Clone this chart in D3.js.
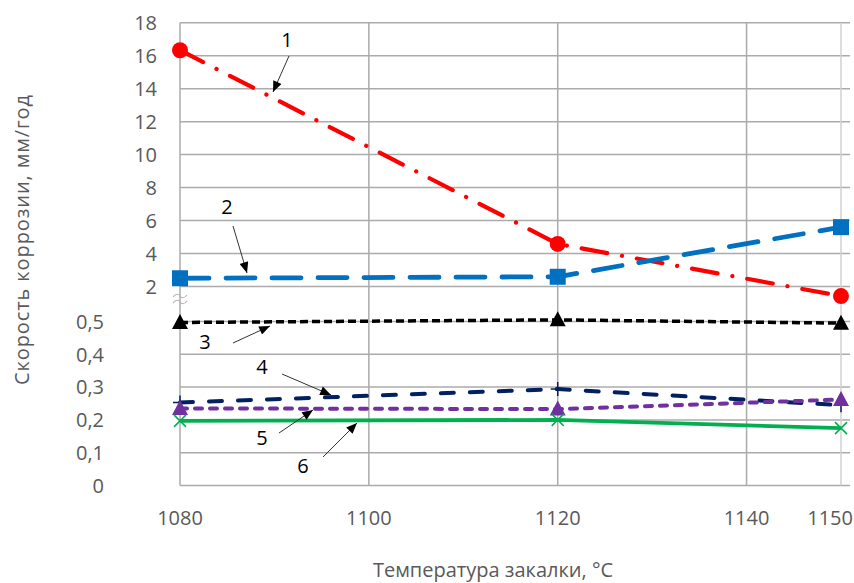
<!DOCTYPE html>
<html><head><meta charset="utf-8">
<script src="https://cdn.jsdelivr.net/npm/d3@7"></script>
<style>
html,body{margin:0;padding:0;background:#fff;}
svg{display:block;}
text{font-family:"Open Sans",sans-serif;}
</style></head>
<body>
<svg id="c" width="854" height="583"></svg>
<script>
// ---- data ----
const temps = [1080, 1120, 1150];
const series1 = [16.33, 4.58, 1.42];   // upper panel
const series2 = [2.5, 2.59, 5.6];      // upper panel
const series3 = [0.497, 0.505, 0.495]; // lower panel
const series4 = [0.253, 0.294, 0.245];
const series5 = [0.235, 0.233, 0.262];
const series6 = [0.197, 0.2, 0.175];
const upperTicks = [2, 4, 6, 8, 10, 12, 14, 16, 18];
const lowerTicks = [0, 0.1, 0.2, 0.3, 0.4, 0.5];
const xTicks = [1080, 1100, 1120, 1140, 1150];
const seriesLabels = ["1", "2", "3", "4", "5", "6"];
const yTitle = "Скорость коррозии, мм/год";
const xTitle = "Температура закалки, °C";

// ---- layout ----
const svg = d3.select("#c");
const x = d3.scaleLinear().domain([1080, 1150]).range([180, 841]);
const yTop = d3.scaleLinear().domain([2, 18]).range([286.5, 22.7]);
const yBot = d3.scaleLinear().domain([0, 0.5]).range([485.5, 321.5]);
const gridRight = 850;
const gridColor = "#ababab";
const labelColor = "#595959";

// horizontal grid
const g = svg.append("g");
upperTicks.forEach(t => g.append("line").attr("x1", x(1080)).attr("x2", gridRight)
  .attr("y1", yTop(t)).attr("y2", yTop(t)).attr("stroke", gridColor).attr("stroke-width", 1.5));
lowerTicks.forEach(t => g.append("line").attr("x1", x(1080)).attr("x2", gridRight)
  .attr("y1", yBot(t)).attr("y2", yBot(t)).attr("stroke", gridColor).attr("stroke-width", 1.5));
// vertical grid
xTicks.forEach(t => g.append("line").attr("x1", x(t)).attr("x2", x(t))
  .attr("y1", yTop(18)).attr("y2", yBot(0))
  .attr("stroke", t === 1150 ? "#d0d0d0" : gridColor).attr("stroke-width", 1.5));

// break marks
const bx = x(1080);
[296, 302].forEach(yy => {
  g.append("path").attr("d", `M${bx-7},${yy+1} C${bx-4},${yy-3} ${bx-1},${yy-2} ${bx},${yy} S${bx+4},${yy+3} ${bx+7},${yy-1}`)
   .attr("fill", "none").attr("stroke", "#b5b5b5").attr("stroke-width", 1.2);
});

// tick labels
svg.append("g").selectAll("text").data(upperTicks).join("text")
  .attr("x", 157).attr("y", d => yTop(d)).attr("dy", "0.36em")
  .attr("text-anchor", "end").attr("font-size", 20).attr("fill", labelColor)
  .text(d => d);
svg.append("g").selectAll("text").data(lowerTicks).join("text")
  .attr("x", 104).attr("y", d => yBot(d)).attr("dy", "0.36em")
  .attr("text-anchor", "end").attr("font-size", 20).attr("fill", labelColor)
  .text(d => d === 0 ? "0" : String(d).replace(".", ","));
svg.append("g").selectAll("text").data(xTicks).join("text")
  .attr("x", d => d === 1150 ? 853 : x(d)).attr("y", 518).attr("dy", "0.36em")
  .attr("text-anchor", d => d === 1150 ? "end" : "middle")
  .attr("font-size", 20).attr("fill", labelColor).text(d => d);

// axis titles
const yt = svg.append("text").attr("transform", "translate(29,240) rotate(-90)")
  .attr("text-anchor", "middle").attr("font-size", 20).attr("fill", labelColor).text(yTitle);
yt.attr("textLength", 290).attr("lengthAdjust", "spacing");
svg.append("text").attr("x", 493).attr("y", 577).attr("text-anchor", "middle")
  .attr("font-size", 20).attr("fill", labelColor).text(xTitle);

// series
const defs = [
  {v: series1, y: yTop, color: "#ff0000", w: 4.2, dash: "26,15,0.1,15", cap: "round", marker: "circle"},
  {v: series2, y: yTop, color: "#0070c0", w: 4.8, dash: "29,17", cap: "round", marker: "square"},
  {v: series3, y: yBot, color: "#000000", w: 3.5, dash: "8,4", cap: "butt", marker: "triangle"},
  {v: series4, y: yBot, color: "#002060", w: 4, dash: "13,16", cap: "round", marker: "plus"},
  {v: series5, y: yBot, color: "#7030a0", w: 4, dash: "7,8", cap: "round", marker: "triangle"},
  {v: series6, y: yBot, color: "#00b050", w: 3.8, dash: null, cap: "butt", marker: "x"}
];
defs.forEach(s => {
  const pts = temps.map((t, i) => [x(t), s.y(s.v[i])]);
  const line = d3.line().curve(d3.curveLinear);
  const p = svg.append("path").attr("d", line(pts)).attr("fill", "none")
    .attr("stroke", s.color).attr("stroke-width", s.w).attr("stroke-linecap", s.cap)
    .attr("stroke-linejoin", "round");
  if (s.dash) p.attr("stroke-dasharray", s.dash);
  const mg = svg.append("g");
  pts.forEach(([px, py]) => {
    if (s.marker === "circle") mg.append("circle").attr("cx", px).attr("cy", py).attr("r", 8).attr("fill", s.color);
    else if (s.marker === "square") mg.append("rect").attr("x", px-8).attr("y", py-8).attr("width", 16).attr("height", 16).attr("fill", s.color);
    else if (s.marker === "triangle") mg.append("path").attr("d", `M${px},${py-8.5} L${px+8},${py+6.5} L${px-8},${py+6.5} Z`).attr("fill", s.color);
    else if (s.marker === "plus") mg.append("path").attr("d", `M${px-7},${py} L${px+7},${py} M${px},${py-7} L${px},${py+7}`).attr("stroke", s.color).attr("stroke-width", 1.5);
    else if (s.marker === "x") mg.append("path").attr("d", `M${px-6},${py-6} L${px+6},${py+6} M${px-6},${py+6} L${px+6},${py-6}`).attr("stroke", s.color).attr("stroke-width", 1.5);
  });
});

// annotations (layout in pixels)
const annot = [
  {tx: 287, ty: 40, x1: 289, y1: 56, x2: 273, y2: 92},
  {tx: 227, ty: 207, x1: 233, y1: 226, x2: 247, y2: 273},
  {tx: 205, ty: 342, x1: 233, y1: 343, x2: 270, y2: 326},
  {tx: 262, ty: 367, x1: 282, y1: 374, x2: 331, y2: 395},
  {tx: 262, ty: 438, x1: 279, y1: 433, x2: 313, y2: 410},
  {tx: 303, ty: 466, x1: 323, y1: 457, x2: 357, y2: 423}
];
svg.append("defs").append("marker").attr("id", "ah").attr("viewBox", "0 0 12 10")
  .attr("refX", 12).attr("refY", 5).attr("markerWidth", 12).attr("markerHeight", 9)
  .attr("markerUnits", "userSpaceOnUse").attr("orient", "auto")
  .append("path").attr("d", "M0,0 L12,5 L0,10 Z").attr("fill", "#000");
annot.forEach((a, i) => {
  svg.append("line").attr("x1", a.x1).attr("y1", a.y1).attr("x2", a.x2).attr("y2", a.y2)
    .attr("stroke", "#333").attr("stroke-width", 1).attr("marker-end", "url(#ah)");
  svg.append("text").attr("x", a.tx).attr("y", a.ty).attr("dy", "0.36em")
    .attr("text-anchor", "middle").attr("font-size", 20).attr("fill", "#000").text(seriesLabels[i]);
});
</script>
</body></html>
